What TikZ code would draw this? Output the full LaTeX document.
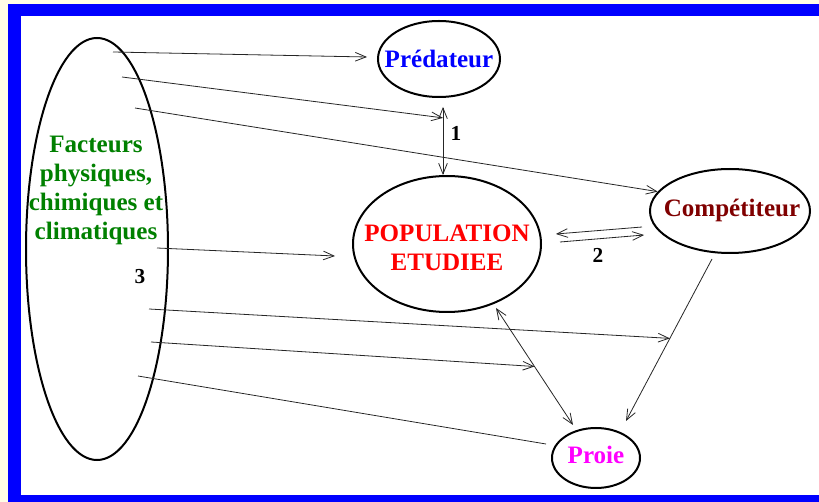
\documentclass[tikz,border=0pt]{standalone}
\usepackage{fontspec}
\setmainfont{Liberation Serif}
\usepackage{xcolor}
\usetikzlibrary{shapes.geometric,arrows.meta,calc}
\definecolor{cream}{HTML}{FFFDE6}
\definecolor{darkred}{HTML}{800000}
\definecolor{pink}{HTML}{FF00FF}
\definecolor{leaf}{HTML}{008000}
\definecolor{pureblue}{HTML}{0000FF}
\definecolor{purered}{HTML}{FF0000}
\tikzset{
    blob/.style={ellipse, draw, line width=1.5pt, inner sep=0pt},
    conn/.style={-{Straight Barb[length=8pt,width=6.5pt]}, line width=0.6pt, black!85},
    dconn/.style={{Straight Barb[length=8pt,width=6.5pt]}-{Straight Barb[length=8pt,width=6.5pt]}, line width=0.6pt, black!85},
    plain/.style={line width=0.6pt, black!85},
    txt/.style={font=\fontsize{18.8}{21.75}\selectfont\bfseries, align=center, inner sep=0pt},
    numtxt/.style={font=\fontsize{16}{18}\selectfont\bfseries, inner sep=0pt}
}

\begin{document}
\begin{tikzpicture}[x=0.75pt,y=-0.75pt]
% Frame
\fill[cream] (0,0) rectangle (819,502);
\fill[pureblue] (8,4) rectangle (819,502);
\fill[white] (21,16) rectangle (819,495);
\useasboundingbox (0,0) rectangle (819,502);

% Ellipses
\node[blob, minimum width=106.5pt, minimum height=316.5pt] (fact) at (97,249) {};
\node[blob, minimum width=91.5pt, minimum height=57pt] (pred) at (439,59) {};
\node[blob, minimum width=141pt, minimum height=102pt] (pop) at (447,244) {};
\node[blob, minimum width=120pt, minimum height=63pt] (comp) at (730,211) {};
\node[blob, minimum width=66pt, minimum height=45pt] (proie) at (596,458) {};

% Texts
\node[txt, text=leaf] (facttxt) at (96,190) {Facteurs\\physiques,\\chimiques et\\climatiques};
\node[txt, text=pureblue] (predtxt) at (pred) {Prédateur};
\node[txt, text=purered] (poptxt) at (447,248) {POPULATION\\ETUDIEE};
\node[txt, text=darkred] (comptxt) at (732,210) {Compétiteur};
\node[txt, text=pink] (proietxt) at (596,455) {Proie};

% Predator and competitor
\draw[dconn] ([shift={(4,9)}]pred.south) coordinate (a1) -- ([shift={(-4,0)}]pop.north) coordinate (b1);
\node[numtxt] (n1) at (456,133) {1};
\draw[conn] ([shift={(-7,16)}]comp.west) -- ([shift={(14,-10)}]pop.east);
\draw[conn] ([shift={(18,-2)}]pop.east) -- ([shift={(-5,24)}]comp.west);
\node[numtxt] (n2) at (598,255) {2};

% Prey
\draw[conn] ([shift={(-18,5)}]comp.south) coordinate (a2) -- ([shift={(30,-6)}]proie.north) coordinate (b2);
\draw[dconn] ([shift={(49,-5)}]pop.south) coordinate (a3) -- ([shift={(-23,-2)}]proie.north) coordinate (b3);

% Factors
\foreach \n/\x/\y in {1/113/52, 2/122/77, 3/135/108, 4/157/248, 5/149/309, 6/151/342, 7/138/376}
    \coordinate (f\n) at (\x,\y);
\node[numtxt] (n3) at (140,277) {3};
\draw[conn] (f1) -- ([shift={(-10,-2)}]pred.west);
\draw[conn] (f2) -- ($(a1)!0.16!(b1)$);
\draw[conn] (f3) -- (comp.165);
\draw[conn] (f4) -- ([shift={(-17,12)}]pop.west);
\draw[conn] (f5) -- ($(a2)!0.49!(b2)$);
\draw[conn] (f6) -- ($(a3)!0.5!(b3)$);
\draw[plain] (f7) -- ([shift={(-5,-14)}]proie.west);
\end{tikzpicture}
\end{document}
